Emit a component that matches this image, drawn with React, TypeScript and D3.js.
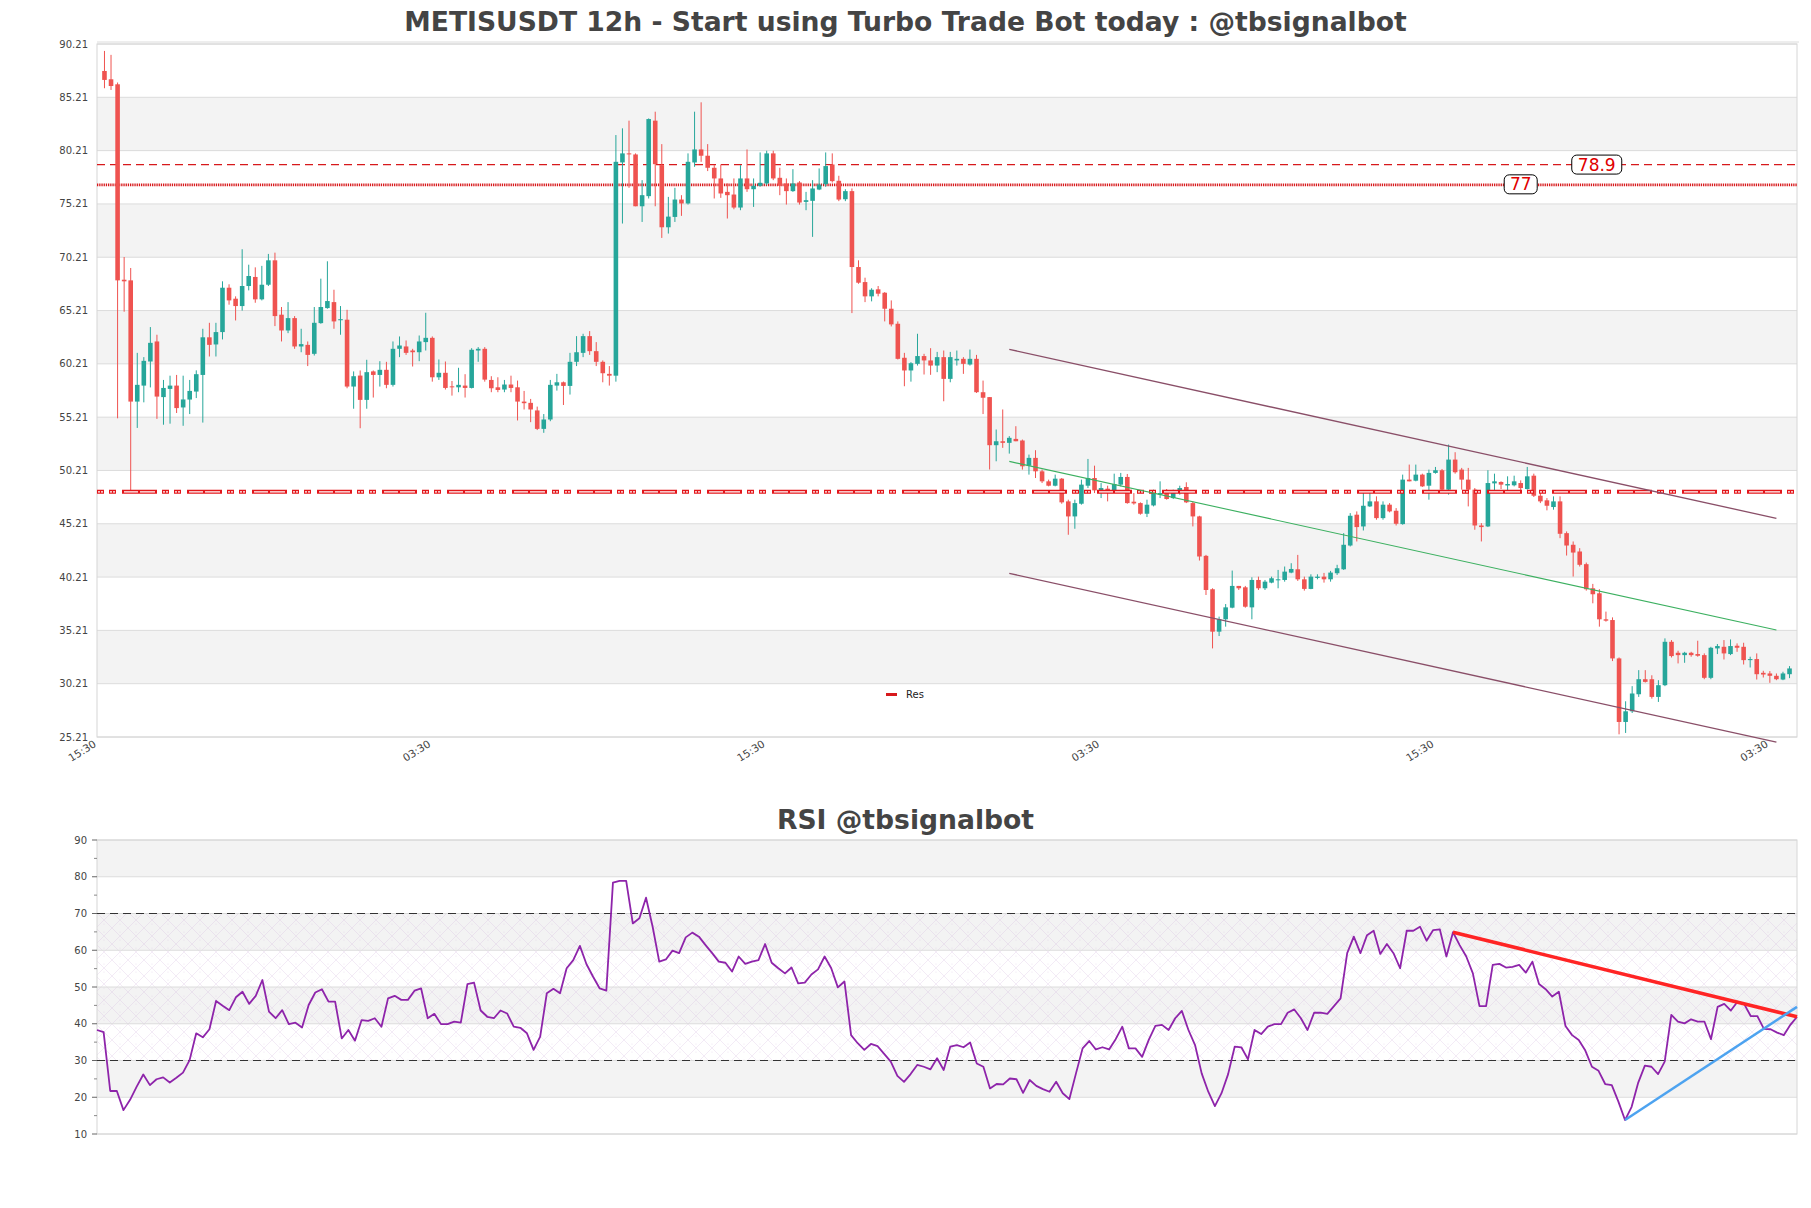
import React from 'react';
import * as d3 from 'd3';

// ---------- DATA ----------
const open = [
87.68,86.9,86.43,68.1,68.04,56.67,58.17,60.43,62.31,57.09,
57.86,58.17,56.12,56.86,57.61,59.17,62.7,62.03,63.19,67.35,
66.32,65.63,67.51,68.36,66.26,67.63,69.92,64.82,63.34,64.5,
61.84,61.99,61.15,64.03,65.44,66.0,64.3,64.35,58.08,59.11,
56.83,59.5,59.17,59.65,58.24,61.62,61.84,61.46,61.3,62.25,
62.65,58.95,59.37,58.1,58.01,58.17,57.95,61.46,61.62,58.7,
58.01,57.8,58.27,58.01,56.67,56.55,55.84,54.11,54.99,58.17,
58.48,58.14,60.4,61.24,62.81,61.4,60.4,59.27,59.1,79.1,
79.95,79.85,74.99,75.94,83.02,78.85,73.02,73.99,75.62,75.25,
79.1,80.32,79.73,78.6,77.6,76.34,76.09,74.87,77.6,76.59,
76.91,77.13,79.95,77.66,77.13,76.41,77.22,75.4,75.5,76.56,
77.06,78.91,77.38,75.65,76.41,69.29,67.88,66.54,67.2,66.88,
65.38,63.97,60.78,59.59,60.21,60.94,60.53,60.05,60.84,58.8,
60.53,60.68,60.15,60.68,57.55,57.09,52.58,52.95,52.8,53.17,
53.02,50.66,51.39,50.13,49.19,48.78,49.44,47.31,45.9,47.09,
48.78,49.5,48.34,48.5,48.25,48.88,49.6,47.28,47.15,46.15,
46.93,47.94,48.09,47.62,48.09,48.66,47.15,45.9,42.2,39.07,
35.09,36.25,37.34,39.38,39.25,37.37,39.94,39.16,39.69,39.95,
39.94,40.63,40.94,40.0,39.1,40.13,40.25,40.0,40.57,40.94,
43.17,46.06,44.96,46.84,47.31,45.74,47.0,46.43,45.18,49.35,
49.25,49.82,48.78,49.98,50.23,48.41,51.23,50.29,49.35,48.41,
45.05,44.96,49.0,49.13,48.8,48.82,49.03,48.47,49.72,47.84,
47.41,46.78,47.31,44.33,43.24,42.61,41.42,39.16,38.69,36.25,
36.18,32.58,26.62,27.62,29.22,30.63,30.63,28.97,30.07,34.14,
33.11,32.89,33.11,32.99,32.89,30.76,33.52,33.67,32.99,33.77,
33.67,32.42,32.52,31.23,31.17,30.95,30.6,31.1
];
const high = [
89.56,89.19,86.6,70.23,69.2,61.24,60.84,63.66,62.94,58.7,
59.1,59.17,59.1,58.7,59.6,63.5,64.06,64.06,67.95,67.67,
66.54,70.96,69.51,69.26,69.4,70.52,70.64,65.54,66.0,64.69,
63.5,62.31,65.54,68.2,69.83,67.16,65.63,65.28,59.5,59.59,
60.59,59.59,60.46,60.4,62.31,62.78,62.4,61.62,62.87,65.0,
62.78,60.62,60.43,58.6,59.84,59.24,61.68,61.78,61.78,59.05,
58.95,58.7,59.1,58.64,57.67,56.92,56.2,55.5,58.7,59.27,
58.55,61.24,62.81,63.03,63.28,62.25,60.53,60.0,81.67,82.3,
83.02,79.95,77.44,83.23,83.86,80.82,75.87,76.72,76.03,79.95,
83.86,84.74,80.82,78.85,78.91,77.13,77.6,78.85,80.32,77.6,
80.04,80.2,80.2,78.6,77.6,78.47,77.35,76.34,77.44,78.54,
80.04,79.95,77.85,76.59,76.66,69.92,68.29,67.3,67.51,66.94,
66.16,64.19,61.24,60.37,63.03,61.15,61.68,61.33,61.46,61.33,
61.46,60.84,61.55,61.05,58.64,57.1,54.05,55.93,53.43,54.36,
53.11,51.7,52.11,50.29,49.35,49.82,49.5,47.47,47.47,49.35,
51.29,50.66,49.03,48.78,49.91,49.98,49.88,48.09,47.22,47.47,
48.41,49.19,48.47,48.41,48.78,49.1,47.31,45.96,42.29,39.16,
36.5,37.68,40.82,39.38,39.38,40.19,40.25,39.94,40.25,40.88,
41.2,41.51,42.29,40.25,40.47,40.47,40.6,40.79,41.36,44.33,
46.21,46.37,48.09,48.09,47.78,47.31,47.15,46.68,49.82,50.76,
50.76,49.91,50.29,50.54,50.35,52.64,51.92,50.45,50.45,48.56,
45.27,50.23,49.91,49.19,49.66,49.72,49.28,50.54,49.91,48.09,
47.62,47.78,47.78,44.49,43.55,42.92,41.57,39.57,39.07,36.97,
36.43,32.67,28.56,29.98,31.48,31.48,31.0,30.54,34.46,34.3,
33.3,33.2,33.2,34.24,33.05,33.67,33.93,34.3,34.36,33.99,
34.05,32.74,33.05,31.42,31.39,31.17,31.33,31.86
];
const low = [
86.06,85.9,55.1,65.1,48.3,54.2,56.6,58.0,55.05,54.5,
54.6,55.6,54.4,55.5,57.0,54.7,60.9,60.9,62.5,65.76,
64.28,65.2,67.1,65.94,66.16,67.51,63.75,62.31,63.09,61.62,
61.3,60.0,60.99,63.97,65.38,63.5,62.94,57.92,56.0,54.17,
56.0,57.05,58.08,57.92,58.08,60.84,61.05,59.96,60.46,61.46,
58.54,58.7,57.8,57.23,57.55,57.05,57.9,60.4,58.54,57.55,
57.55,57.55,57.55,54.9,55.93,54.74,54.0,53.74,54.83,57.7,
56.35,57.33,60.0,60.84,61.05,60.0,58.48,58.17,58.54,73.37,
76.72,74.99,73.52,75.72,74.99,72.02,72.43,73.52,74.09,75.15,
78.69,79.16,78.29,75.72,75.78,73.84,74.71,74.62,76.34,74.93,
76.82,76.97,77.44,76.03,75.15,76.34,75.15,74.62,72.12,76.5,
76.82,77.22,75.47,75.47,64.97,67.72,66.0,66.07,66.54,64.19,
63.72,60.62,58.11,58.54,60.05,59.21,59.18,59.43,56.7,58.48,
60.05,59.27,60.05,57.48,55.5,50.3,51.07,52.33,51.79,52.95,
50.29,49.82,49.5,49.03,48.72,48.72,47.09,44.18,44.74,47.0,
48.56,48.09,47.62,47.31,48.15,48.72,47.09,47.0,46.06,45.84,
46.84,47.62,47.47,47.53,47.94,47.15,44.96,41.76,38.53,33.52,
34.68,35.56,37.28,39.0,37.34,36.25,39.0,39.0,39.63,39.16,
39.78,40.57,39.85,38.94,39.07,40.0,39.69,39.78,40.41,40.88,
43.08,43.55,44.58,46.78,45.59,45.59,46.28,45.05,45.12,49.19,
49.19,48.66,47.47,49.91,48.25,47.94,49.91,48.41,46.84,44.65,
43.55,44.9,48.25,48.47,48.37,48.72,48.34,48.41,47.72,47.15,
46.47,46.53,43.86,42.23,40.26,41.2,38.94,37.75,35.56,36.03,
32.33,25.46,25.59,27.46,28.97,30.32,28.81,28.5,29.98,32.67,
32.11,32.17,32.74,32.74,30.63,30.63,32.99,32.48,32.89,33.2,
32.01,31.73,30.6,30.79,30.29,30.54,30.54,30.73
];
const close = [
86.84,86.27,68.04,67.95,56.67,58.24,60.49,62.18,57.14,57.95,
58.17,56.06,56.87,57.67,59.24,62.7,61.99,63.19,67.35,66.16,
65.63,67.51,68.45,66.26,67.63,69.92,64.69,63.34,64.5,61.84,
62.06,61.05,64.06,65.54,66.1,64.19,64.4,58.08,59.05,56.83,
59.43,59.17,59.65,58.24,61.62,61.93,61.24,61.3,62.31,62.65,
58.95,59.37,57.95,58.05,58.24,57.95,61.53,61.62,58.73,57.92,
57.76,58.27,57.95,56.67,56.52,55.93,54.11,54.99,58.24,58.48,
58.14,60.4,61.3,62.81,61.4,60.4,59.33,59.1,79.16,79.95,
79.9,74.99,76.03,83.17,78.94,73.02,74.02,75.62,75.25,79.16,
80.32,79.73,78.6,77.6,76.19,76.03,74.87,77.6,76.59,76.91,
77.19,79.95,77.6,76.91,76.41,77.13,75.34,75.56,76.66,77.03,
78.76,77.35,75.62,76.41,69.29,67.82,66.54,67.16,66.79,65.38,
63.91,60.68,59.59,60.27,60.94,60.53,60.05,60.84,58.8,60.84,
60.68,60.21,60.68,57.55,57.03,52.58,52.95,52.8,53.27,52.95,
50.6,51.39,50.13,49.19,48.78,49.44,47.22,45.9,47.15,48.88,
49.5,48.34,48.56,48.31,48.94,49.6,47.15,47.12,46.15,47.0,
48.09,48.09,47.53,48.09,48.56,47.22,45.9,42.14,39.0,35.09,
36.25,37.37,39.38,39.16,37.43,39.94,39.16,39.78,40.1,40.0,
40.72,40.97,40.0,39.1,40.25,40.25,40.0,40.63,41.04,43.24,
45.96,44.9,46.9,47.31,45.74,47.0,46.37,45.21,49.35,49.19,
49.82,48.72,49.98,50.23,48.41,51.23,50.04,49.35,48.41,45.05,
44.9,49.03,49.19,48.88,48.94,49.19,48.56,49.66,47.84,47.31,
46.9,47.31,44.27,43.17,42.51,41.36,39.07,38.6,36.25,36.12,
32.58,26.62,27.62,29.29,30.63,30.38,28.97,30.07,34.14,32.8,
32.89,33.11,32.89,32.83,30.76,33.58,33.74,33.05,33.74,33.58,
32.42,32.52,31.1,31.07,30.95,30.63,31.17,31.64
];
const rsi = [
38.3,37.7,21.7,21.7,16.5,19.3,22.9,26.2,23.3,24.9,
25.4,24.0,25.3,26.7,30.1,37.4,36.3,38.5,46.2,44.9,
43.7,47.2,48.7,45.4,47.6,51.9,43.3,41.5,43.7,39.9,
40.3,39.0,45.1,48.5,49.4,46.0,46.0,36.0,38.3,35.4,
41.0,40.8,41.5,39.2,46.9,47.6,46.5,46.5,49.0,49.6,
41.5,42.7,39.9,39.9,40.6,40.3,50.8,51.2,43.6,41.9,
41.5,43.6,42.8,39.2,38.9,37.4,32.9,36.5,48.3,49.5,
48.3,55.1,57.3,61.2,56.2,52.8,49.6,49.0,78.4,78.9,
78.9,67.3,68.7,74.3,66.4,56.9,57.5,59.9,59.2,63.5,
64.8,63.7,61.4,59.2,56.9,56.6,54.2,58.3,56.3,56.9,
57.3,61.7,56.6,55.1,53.7,55.3,51.0,51.2,53.4,54.8,
58.3,55.1,49.9,51.5,36.9,34.7,32.9,34.5,33.9,31.8,
29.7,25.8,24.2,26.3,28.8,28.3,27.6,30.6,27.4,33.8,
34.2,33.6,34.9,29.2,28.3,22.4,23.6,23.5,25.1,24.9,
21.2,24.7,23.1,22.2,21.5,24.2,21.1,19.5,26.5,33.3,
35.3,33.0,33.6,33.0,35.8,39.2,33.3,33.3,31.0,35.6,
39.4,39.7,38.3,41.5,43.5,38.3,34.2,26.5,21.5,17.6,
21.1,26.3,33.8,33.6,30.3,38.3,37.2,39.2,39.9,39.9,
43.0,43.9,41.5,38.3,43.0,43.0,42.7,44.8,46.9,59.2,
63.7,59.2,64.1,65.3,59.0,61.7,59.2,55.1,65.3,65.3,
66.4,62.6,65.5,65.7,58.3,64.9,61.4,58.3,53.7,44.8,
44.8,56.0,56.3,55.3,55.5,56.0,53.9,56.9,50.8,49.4,
47.4,48.7,39.4,36.9,35.6,32.7,28.3,27.2,23.6,23.3,
18.8,13.8,17.4,24.0,28.6,28.3,26.3,29.7,42.4,40.6,
40.1,41.2,40.6,40.6,35.8,44.6,45.4,43.6,46.0,45.4,
42.1,42.1,38.6,38.5,37.6,36.9,39.7,41.9
];

const priceTicks = [25.21, 30.21, 35.21, 40.21, 45.21, 50.21, 55.21, 60.21, 65.21, 70.21, 75.21, 80.21, 85.21, 90.21];
const rsiTicks = [10, 20, 30, 40, 50, 60, 70, 80, 90];
const rsiMinorTicks = [15, 25, 35, 45, 55, 65, 75, 85];
const xTickIdx = [-1.14, 49.86, 100.86, 151.86, 202.86, 253.86];
const xTickLabels = ['15:30', '03:30', '15:30', '03:30', '15:30', '03:30'];

const channelIdx = [138, 255];
const channelUpper = [61.57, 45.72];
const channelMid = [51.06, 35.24];
const channelLower = [40.56, 24.73];

const levelDashed = 78.9;
const levelDotted = 77;
const levelRes = 48.21;
const labelDashedIdx = 227.6;
const labelDottedIdx = 216;

const rsiDownIdx = [205, 257];
const rsiDownVal = [64.9, 41.9];
const rsiUpIdx = [231, 257];
const rsiUpVal = [13.8, 44.6];

const titleMain = 'METISUSDT 12h - Start using Turbo Trade Bot today : @tbsignalbot';
const titleRsi = 'RSI @tbsignalbot';

// ---------- LAYOUT ----------
const W = 1811, H = 1208;
const L = 97, R = 1797;
const mTop = 44, mBot = 737;
const rTop = 840, rBot = 1134;
const FONT = 'DejaVu Sans, Verdana, sans-serif';

export default function App() {
  const n = close.length;
  const x = d3.scaleLinear().domain([-1.14, n + 0.14]).range([L, R]);
  const y = d3.scaleLinear().domain([25.21, 90.21]).range([mBot, mTop]);
  const xr = d3.scaleLinear().domain([0, n - 1]).range([L, R]);
  const yr = d3.scaleLinear().domain([10, 90]).range([rBot, rTop]);
  const step = x(1) - x(0);
  const bw = step * 0.7;

  const up = '#26a69a', down = '#ef5350';

  const rsiLine = d3.line<number>().x((_, i) => xr(i)).y(d => yr(d))(rsi) || '';
  const seg = (xs: number[], ys: number[], sx: any, sy: any) =>
    d3.line<number>().x((_, i) => sx(xs[i])).y((_, i) => sy(ys[i]))(xs) || '';

  const bands: [number, number][] = [];
  for (let k = 0; k < priceTicks.length - 1; k++) if (k % 2 === 1) bands.push([priceTicks[k], priceTicks[k + 1]]);
  const rbands: [number, number][] = [];
  for (let k = 0; k < rsiTicks.length - 1; k++) if (k % 2 === 1) rbands.push([rsiTicks[k], rsiTicks[k + 1]]);

  return (
    <svg width={W} height={H} style={{ position: 'absolute', left: 0, top: 0, background: '#fff' }} fontFamily={FONT}>
      <defs>
        <pattern id="hatch" width="16" height="16" patternUnits="userSpaceOnUse">
          <path d="M0,0 L16,16 M16,0 L0,16" stroke="rgba(200,165,215,0.32)" strokeWidth="0.7" fill="none" />
          <circle cx="8" cy="4" r="0.6" fill="rgba(200,165,215,0.35)" />
          <circle cx="8" cy="12" r="0.6" fill="rgba(200,165,215,0.35)" />
        </pattern>
      </defs>
      <rect x={0} y={0} width={W} height={H} fill="#fff" />

      {/* Titles */}
      <text x={905.5} y={31} textAnchor="middle" fontSize={26.6} fontWeight="bold" fill="#444">{titleMain}</text>
      <text x={905.5} y={829} textAnchor="middle" fontSize={26.6} fontWeight="bold" fill="#444">{titleRsi}</text>

      {/* ===== MAIN PANEL ===== */}
      {bands.map((b, i) => (
        <rect key={'b' + i} x={L} y={y(b[1])} width={R - L} height={y(b[0]) - y(b[1])} fill="#f3f3f3" />
      ))}
      {priceTicks.map((t, i) => (
        <line key={'g' + i} x1={L} x2={R} y1={y(t)} y2={y(t)} stroke="#dcdcdc" strokeWidth={1} />
      ))}
      <line x1={L} x2={R + 2} y1={mTop - 2} y2={mTop - 2} stroke="#dcdcdc" strokeWidth={1} />
      <rect x={L} y={mTop} width={R - L} height={mBot - mTop} fill="none" stroke="#d6d6d6" strokeWidth={1} />
      {priceTicks.map((t, i) => (
        <text key={'yl' + i} x={88} y={y(t)} dy="0.35em" textAnchor="end" fontSize={10} fill="#444">{t.toFixed(2)}</text>
      ))}
      {xTickIdx.map((t, i) => (
        <text key={'xl' + i} transform={`translate(${x(t)},746) rotate(-32)`} textAnchor="end" fontSize={10.5} fill="#444">{xTickLabels[i]}</text>
      ))}

      {/* level lines */}
      <line x1={L} x2={R} y1={y(levelDashed)} y2={y(levelDashed)} stroke="#d7191c" strokeWidth={1.4} strokeDasharray="8,5" />
      <line x1={L} x2={R} y1={y(levelDotted)} y2={y(levelDotted)} stroke="#d7191c" strokeWidth={2.6} strokeDasharray="1.3,0.9" />

      {/* candles */}
      <g>
        {close.map((c, i) => {
          const o = open[i];
          const col = c >= o ? up : down;
          const top = y(Math.max(o, c));
          const bot = y(Math.min(o, c));
          return (
            <g key={'c' + i}>
              <line x1={x(i)} x2={x(i)} y1={y(high[i])} y2={y(low[i])} stroke={col} strokeWidth={1} />
              <rect x={x(i) - bw / 2} y={top} width={bw} height={Math.max(1, bot - top)} fill={col} />
            </g>
          );
        })}
      </g>

      {/* Res pattern line */}
      <line x1={L} x2={R} y1={y(levelRes)} y2={y(levelRes)} stroke="#e3161b" strokeWidth={4} strokeDasharray="7,5,7,6,35,5" />
      <line x1={L} x2={R} y1={y(levelRes)} y2={y(levelRes)} stroke="#fff" strokeWidth={1.3} strokeDasharray="0,1,2,1,2,7,2,1,2,9,14,2,15,7" />

      {/* channel */}
      <path d={seg(channelIdx, channelUpper, x, y)} stroke="#8a4f68" strokeWidth={1.3} fill="none" />
      <path d={seg(channelIdx, channelMid, x, y)} stroke="#3cb060" strokeWidth={1.1} fill="none" />
      <path d={seg(channelIdx, channelLower, x, y)} stroke="#8a4f68" strokeWidth={1.3} fill="none" />

      {/* level labels */}
      <g>
        <rect x={x(labelDashedIdx) - 25} y={y(levelDashed) - 9.5} width={50} height={19} rx={5} fill="#fff" stroke="#000" strokeWidth={1} />
        <text x={x(labelDashedIdx)} y={y(levelDashed)} dy="0.36em" textAnchor="middle" fontSize={17} fill="#e00000">{String(levelDashed)}</text>
        <rect x={x(labelDottedIdx) - 16.5} y={y(levelDotted) - 10} width={33} height={19} rx={5} fill="#fff" stroke="#000" strokeWidth={1} />
        <text x={x(labelDottedIdx)} y={y(levelDotted) - 0.5} dy="0.36em" textAnchor="middle" fontSize={17} fill="#e00000">{String(levelDotted)}</text>
      </g>

      {/* legend */}
      <rect x={886} y={693} width={11} height={3} fill="#d7191c" />
      <text x={906} y={698} fontSize={10} fill="#222">Res</text>

      {/* ===== RSI PANEL ===== */}
      {rbands.map((b, i) => (
        <rect key={'rb' + i} x={L} y={yr(b[1])} width={R - L} height={yr(b[0]) - yr(b[1])} fill="#f3f3f3" />
      ))}
      <rect x={L} y={yr(70)} width={R - L} height={yr(30) - yr(70)} fill="url(#hatch)" />
      {rsiTicks.map((t, i) => (
        <line key={'rg' + i} x1={L} x2={R} y1={yr(t)} y2={yr(t)} stroke="#dcdcdc" strokeWidth={1} />
      ))}
      <rect x={L} y={rTop} width={R - L} height={rBot - rTop} fill="none" stroke="#d6d6d6" strokeWidth={1} />
      {rsiTicks.map((t, i) => (
        <g key={'rt' + i}>
          <line x1={L - 5} x2={L} y1={yr(t)} y2={yr(t)} stroke="#666" strokeWidth={1} />
          <text x={87} y={yr(t)} dy="0.35em" textAnchor="end" fontSize={10} fill="#444">{t}</text>
        </g>
      ))}
      {rsiMinorTicks.map((t, i) => (
        <line key={'rm' + i} x1={L - 3} x2={L} y1={yr(t)} y2={yr(t)} stroke="#888" strokeWidth={1} />
      ))}
      <line x1={L} x2={R} y1={yr(70)} y2={yr(70)} stroke="#333" strokeWidth={1.2} strokeDasharray="8,5" />
      <line x1={L} x2={R} y1={yr(30)} y2={yr(30)} stroke="#333" strokeWidth={1.2} strokeDasharray="8,5" />
      <path d={rsiLine} stroke="#8e24aa" strokeWidth={1.8} fill="none" strokeLinejoin="round" />
      <path d={seg(rsiDownIdx, rsiDownVal, xr, yr)} stroke="#ff2424" strokeWidth={3.5} fill="none" />
      <path d={seg(rsiUpIdx, rsiUpVal, xr, yr)} stroke="#4da3f0" strokeWidth={2.5} fill="none" />
    </svg>
  );
}
